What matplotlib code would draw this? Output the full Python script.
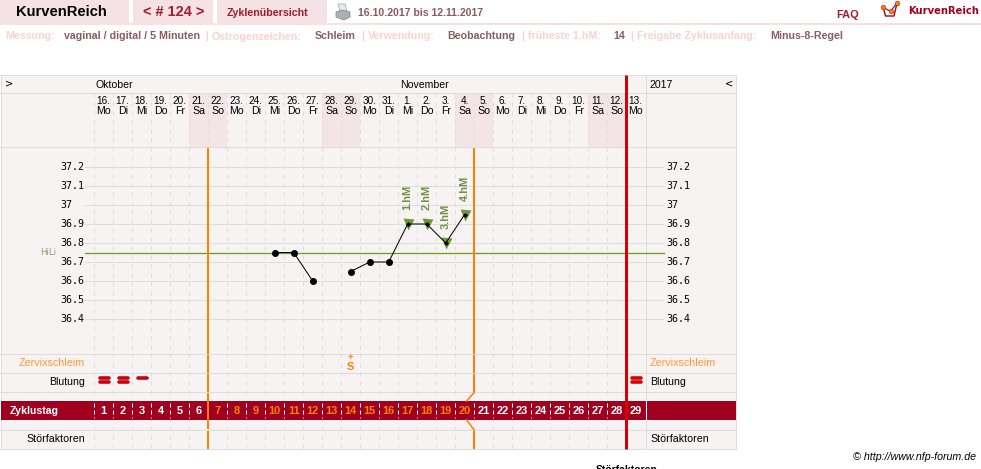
import matplotlib
matplotlib.use("Agg")
import matplotlib.pyplot as plt
from matplotlib.markers import MarkerStyle
from matplotlib.patches import Rectangle, Polygon
from matplotlib.transforms import blended_transform_factory

plt.rcParams['font.family'] = ['Liberation Sans', 'DejaVu Sans']

# data
month_labels = ["Oktober", "November"]
dates = [16, 17, 18, 19, 20, 21, 22, 23, 24, 25, 26, 27, 28, 29, 30, 31,
         1, 2, 3, 4, 5, 6, 7, 8, 9, 10, 11, 12, 13]
weekdays = ["Mo", "Di", "Mi", "Do", "Fr", "Sa", "So"] * 4 + ["Mo"]
cycle_days = list(range(1, 30))

temp_ticks = [37.2, 37.1, 37, 36.9, 36.8, 36.7, 36.6, 36.5, 36.4]
temp_seg1_days = [10, 11, 12]
temp_seg1 = [36.75, 36.75, 36.6]
temp_seg2_days = [14, 15, 16, 17, 18, 19, 20]
temp_seg2 = [36.65, 36.7, 36.7, 36.9, 36.9, 36.8, 36.95]
low_days = [10, 11, 12, 14, 15, 16]
low_temps = [36.75, 36.75, 36.6, 36.65, 36.7, 36.7]
high_days = [17, 18, 19, 20]
high_temps = [36.9, 36.9, 36.8, 36.95]
high_labels = ["1.hM", "2.hM", "3.hM", "4.hM"]
hili = 36.75
bleed_days = [1, 2, 3, 29]
bleed_bars = [2, 2, 1, 2]
mucus_day = 14
first_high_day = 6.5
last_day_line = 20.5
end_line = 28.5

dark_red = "#a0001f"
orange = "#ff8000"
red = "#d80000"
green = "#6b9a2e"
table_bg = "#f8f3f3"
weekend = "#f3e4e6"
grid = "#dedcdc"
head_bg = "#f4e2e4"
soft = "#fad2d2"
val = "#8a5c62"

fig = plt.figure(figsize=(9.81, 4.69), dpi=100)

# page axes in pixels, chart axes in temperature / cycle day
pg = fig.add_axes([0, 0, 1, 1])
pg.set_xlim(0, 981)
pg.set_ylim(469, 0)
pg.axis("off")

ax_top, ax_bot, ax_l, ax_r = 148, 354, 84.7, 645.2
ax = fig.add_axes([ax_l / 981, 1 - ax_bot / 469, (ax_r - ax_l) / 981, (ax_bot - ax_top) / 469])
ax.set_xlim(0, 29.5)
ax.set_ylim(37.2 - (354 - 167) / 190, 37.3)
ax.axis("off")
ax.patch.set_alpha(0)

day_tr = blended_transform_factory(ax.transData, pg.transData)
temp_tr = blended_transform_factory(pg.transData, ax.transData)


def px(v):
    return v * 0.72


def label(x, y, s, size, color="black", weight="normal", ha="left", **kw):
    pg.text(x, y, s, fontsize=px(size), color=color, fontweight=weight, ha=ha, va="center", **kw)


# page header
for x0, x1 in [(0, 128.5), (133, 212.5), (217, 326.5)]:
    pg.add_patch(Rectangle((x0, 0), x1 - x0, 23.5, fc=head_bg, ec="none"))
pg.add_patch(Rectangle((0, 23.5), 981, 1.6, fc=head_bg, ec="none"))
label(16, 12.5, "KurvenReich", 14.7, weight="bold")
label(143, 12.5, "< # 124 >", 14.5, color="#a51c2c", weight="bold")
label(227, 12.5, "Zyklenübersicht", 10.6, color="#a51c2c", weight="bold")
label(358, 12.5, "16.10.2017 bis 12.11.2017", 10.5, color=val, weight="bold")
label(836, 14.5, "FAQ", 11, color="#a51c2c", weight="bold")
label(908, 10.5, "KurvenReich", 10, color=dark_red, weight="bold", family="DejaVu Sans")

# printer icon
pg.add_patch(Polygon([(338, 4), (345, 4), (347, 11), (340, 11)], fc="#e6edf0", ec="#9aa0a6", lw=0.5))
pg.add_patch(Polygon([(336, 12), (342, 10), (350, 12), (350, 17), (344, 20), (336, 17)], fc="#aab0b5", ec="#7d8388", lw=0.5))

# logo
pg.plot([883, 885.5, 894, 897], [7, 16, 16, 3], color=dark_red, lw=1)
pg.plot([883, 890.5, 897], [7, 11.5, 3], color=dark_red, lw=0.8)
pg.plot([883, 890.5, 897], [7, 11.5, 3], ls="none", color=orange, marker="o", ms=3.4, mec="#a0001f", mew=0.3)

# info line
info = [(5, "Messung:", soft), (64, "vaginal / digital / 5 Minuten", val), (205, "|", soft),
        (212, "Östrogenzeichen:", soft), (315, "Schleim", val), (361, "|", soft),
        (368, "Verwendung:", soft), (447, "Beobachtung", val), (521, "|", soft),
        (528, "früheste 1.hM:", soft), (613, "14", val), (630, "|", soft),
        (637, "Freigabe Zyklusanfang:", soft), (770, "Minus-8-Regel", val)]
for x, s, c in info:
    label(x, 36, s, 10.6, color=c, weight="bold")

# table background and rows
pg.add_patch(Rectangle((1, 76), 735, 373, fc=table_bg, ec="none", zorder=0))
for d, wd in zip(cycle_days, weekdays):
    if wd in ("Sa", "So"):
        pg.add_patch(Rectangle((d - 0.5, 93), 1, 55, fc=weekend, ec="none", transform=day_tr, zorder=0.5))
for y in [75.5, 93, 147.5, 354, 373, 392, 430, 449]:
    pg.plot([0, 736], [y, y], color=grid, lw=px(1), zorder=1)
for x in [0.5, 645.5, 735.5]:
    pg.plot([x, x], [76, 449], color=grid, lw=px(1), zorder=1)

# day columns
for d in cycle_days:
    pg.plot([d - 0.5, d - 0.5], [93, 449], transform=day_tr, color=grid, lw=px(1), ls=(0, (4, 5)), zorder=1.2)

pg.add_patch(Rectangle((1, 401), 735, 19, fc=dark_red, ec="none", zorder=2))
pg.plot([645.5, 645.5], [401, 420], color="white", lw=px(1), zorder=2.1)
for d in cycle_days:
    pg.plot([d - 0.5, d - 0.5], [403, 418], transform=day_tr, color="white", lw=px(1), ls=(0, (4, 3)), zorder=2.1)

# temperature scale
for t in temp_ticks:
    pg.plot([85, 663], [t, t], transform=temp_tr, color=grid, lw=px(1), zorder=1.1)
    for x in (60, 666):
        ax.text(x, t, f"{t:g}", transform=temp_tr, fontsize=px(10), family="DejaVu Sans Mono", va="center", ha="left")
pg.plot([85, 664], [hili, hili], transform=temp_tr, color="#68a020", lw=px(1.3), zorder=2.5)
ax.text(40, hili, "HiLi", transform=temp_tr, fontsize=px(8.7), color="#86a070", va="center", family="DejaVu Sans")

# cycle phase lines
for y0, y1 in [(148, 354), (355, 373), (374, 392), (393, 429), (431, 449)]:
    pg.plot([first_high_day, first_high_day], [y0, y1], transform=day_tr, color=orange, lw=px(2), zorder=3, solid_capstyle="butt")
for y0, y1 in [(148, 354), (355, 373), (374, 392), (431, 449)]:
    pg.plot([last_day_line, last_day_line], [y0, y1], transform=day_tr, color=orange, lw=px(2), zorder=3, solid_capstyle="butt")
pg.plot([last_day_line, last_day_line - 0.4], [392.5, 401], transform=day_tr, color=orange, lw=px(1.5), zorder=3)
pg.plot([last_day_line - 0.4, last_day_line], [420, 430], transform=day_tr, color=orange, lw=px(1.5), zorder=3)
pg.plot([end_line, end_line], [75, 449], transform=day_tr, color=red, lw=px(3), zorder=3, solid_capstyle="butt")

# header texts
label(96, 85, month_labels[0], 10.5)
label(400, 85, month_labels[1], 10.5)
label(650, 85, "2017", 10.5)
label(5, 83, ">", 10, family="DejaVu Sans")
label(725, 83, "<", 10, family="DejaVu Sans")
for d, dt, wd in zip(cycle_days, dates, weekdays):
    pg.text(d, 101, f"{dt}.", transform=day_tr, fontsize=px(10), ha="center", va="center", zorder=4)
    pg.text(d, 111, wd, transform=day_tr, fontsize=px(10.5), ha="center", va="center", zorder=4)

# temperature curve
for xs, ys in [(temp_seg1_days, temp_seg1), (temp_seg2_days, temp_seg2)]:
    ax.plot(xs, ys, color="black", lw=px(1), zorder=5)
ax.plot(low_days, low_temps, ls="none", marker="o", ms=px(7), color="black", mec="none", zorder=6)
ax.plot(high_days, high_temps, ls="none", marker="v", ms=px(11), color=green, mec="none", zorder=4.5)
ax.plot(high_days, high_temps, ls="none", marker="D", ms=px(3.5), color="black", mec="none", zorder=6)
for d, t, s in zip(high_days, high_temps, high_labels):
    ax.annotate(s, (d, t), xytext=(0, px(14)), textcoords="offset points", rotation=90, ha="center", va="bottom",
                fontsize=px(11), fontweight="bold", color="#6f9245")

# bottom rows
label(85, 363, "Zervixschleim", 10.7, color="#ff9a33", ha="right")
label(85, 382, "Blutung", 10.5, ha="right")
label(10, 411.5, "Zyklustag", 10.5, color="white", weight="bold", zorder=4)
label(85, 439.5, "Störfaktoren", 10.6, ha="right")
label(650, 363, "Zervixschleim", 10.7, color="#ff9a33")
label(650, 382, "Blutung", 10.5)
label(650, 439.5, "Störfaktoren", 10.6)
pg.text(mucus_day, 357.5, "+", transform=day_tr, fontsize=px(9.5), color=orange, fontweight="bold", ha="center", va="center")
pg.text(mucus_day, 366.5, "S", transform=day_tr, fontsize=px(11), color=orange, fontweight="bold", ha="center", va="center")

bar_marker = MarkerStyle("_", capstyle="round")
for d, n in zip(bleed_days, bleed_bars):
    c = red if d == 29 else "#c80010"
    ys = [378.5, 382.5] if n == 2 else [378.5]
    pg.plot([d] * len(ys), ys, transform=day_tr, ls="none", marker=bar_marker, ms=px(9), mew=px(3.6), color=c, zorder=4)

for d in cycle_days:
    c = orange if first_high_day < d < last_day_line else "white"
    pg.text(d, 411.5, str(d), transform=day_tr, fontsize=px(11), color=c, fontweight="bold", ha="center", va="center", zorder=4)

label(976, 457, "© http://www.nfp-forum.de", 10.6, ha="right", style="italic")
label(596, 470, "Störfaktoren", 10.4, weight="bold")

fig.savefig("out.png", dpi=100)
